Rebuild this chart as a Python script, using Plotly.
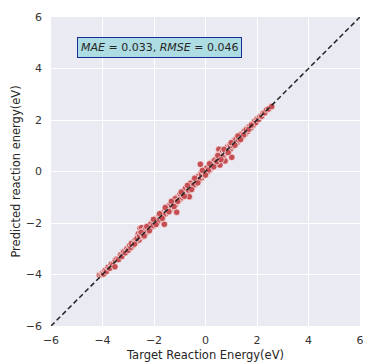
import plotly.graph_objects as go

# Target vs. predicted reaction energies (eV)
target = [
    -4.12, -4.05, -4.00, -3.96, -3.90, -3.85, -3.78, -3.72, -3.66, -3.60,
    -3.52, -3.50, -3.44, -3.38, -3.30, -3.25, -3.18, -3.12, -3.05, -3.00,
    -2.95, -2.90, -2.84, -2.80, -2.74, -2.70, -2.64, -2.61, -2.58, -2.54,
    -2.52, -2.48, -2.45, -2.40, -2.36, -2.30, -2.26, -2.20, -2.16, -2.10,
    -2.06, -2.00, -1.96, -1.90, -1.86, -1.80, -1.76, -1.70, -1.66, -1.60,
    -1.58, -1.54, -1.50, -1.46, -1.40, -1.36, -1.30, -1.26, -1.20, -1.15,
    -1.12, -1.10, -1.05, -1.00, -0.96, -0.92, -0.88, -0.84, -0.80, -0.76,
    -0.72, -0.68, -0.63, -0.60, -0.56, -0.52, -0.48, -0.44, -0.40, -0.36,
    -0.32, -0.28, -0.24, -0.20, -0.18, -0.14, -0.10, -0.06, -0.02, 0.02,
    0.06, 0.10, 0.14, 0.18, 0.22, 0.26, 0.30, 0.34, 0.38, 0.42,
    0.46, 0.50, 0.52, 0.56, 0.58, 0.62, 0.66, 0.70, 0.76, 0.78,
    0.82, 0.86, 0.90, 0.94, 0.98, 1.02, 1.04, 1.08, 1.12, 1.16,
    1.20, 1.24, 1.30, 1.34, 1.40, 1.44, 1.50, 1.54, 1.60, 1.64,
    1.70, 1.75, 1.80, 1.85, 1.90, 1.95, 2.00, 2.06, 2.12, 2.18,
    2.24, 2.30, 2.38, 2.45, 2.57,
    -2.88, -2.76, -2.66, -2.56, -2.42, -2.34, -2.24, -2.14, -2.04, -1.94,
    -1.84, -1.74, -1.64, -1.52, -1.44, -1.34, -1.24, -1.18, -1.08, -0.98,
    -0.86, -0.78, -0.66, -0.58, -0.46, -0.38, -0.26, -0.16, -0.04, 0.04,
    0.12, 0.20, 0.28, 0.36, 0.44, 0.54, 0.64, 0.74, 0.84, 0.96,
    1.06, 1.18, 1.28, 1.38, 1.48, 1.58, 1.68, 1.78,
    -2.50, -2.38, -2.28, -2.18, -2.02, -1.92, -1.78, -1.68, -1.56, -1.42,
    -1.32, -1.22, -0.94, -0.82, -0.70, -0.54, -0.42, -0.30, -0.12, 0.00,
    0.16, 0.32, 0.48, 0.60, 0.72, 0.88, 1.00, 1.14, 1.26, 1.36,
]
predicted = [
    -4.02, -4.00, -3.95, -3.98, -3.84, -3.88, -3.72, -3.76, -3.60, -3.63,
    -3.70, -3.45, -3.40, -3.42, -3.24, -3.30, -3.12, -3.16, -3.00, -3.06,
    -2.88, -2.95, -2.78, -2.86, -2.68, -2.75, -2.55, -2.42, -2.66, -2.20,
    -2.45, -2.18, -2.52, -2.32, -2.42, -2.22, -2.35, -2.12, -2.24, -2.00,
    -2.15, -1.90, -2.05, -1.82, -1.95, -1.70, -1.86, -1.62, -1.76, -2.05,
    -1.50, -1.64, -1.38, -1.56, -1.30, -1.46, -1.22, -1.36, -1.12, -1.25,
    -1.58, -1.00, -1.15, -0.90, -1.06, -1.00, -0.78, -0.94, -0.70, -0.86,
    -0.60, -0.78, -0.98, -0.50, -0.66, -0.42, -0.58, -0.34, -0.50, -0.26,
    -0.42, -0.18, -0.34, 0.28, -0.08, -0.24, 0.00, -0.16, 0.08, -0.08,
    0.16, 0.00, 0.24, 0.08, 0.32, 0.16, 0.40, 0.24, 0.48, 0.32,
    0.56, 0.40, 0.86, 0.25, 0.68, 0.52, 0.76, 0.60, 0.41, 0.88,
    0.72, 0.96, 0.80, 1.04, 0.88, 0.55, 1.12, 0.98, 1.20, 1.08,
    1.28, 1.14, 1.36, 1.26, 1.46, 1.36, 1.56, 1.46, 1.66, 1.56,
    1.74, 1.68, 1.84, 1.80, 1.94, 1.90, 2.04, 2.02, 2.14, 2.15,
    2.26, 2.28, 2.40, 2.43, 2.52,
    -2.80, -2.82, -2.60, -2.50, -2.48, -2.26, -2.30, -2.06, -2.10, -1.86,
    -1.90, -1.66, -1.70, -1.44, -1.50, -1.26, -1.30, -1.06, -1.16, -0.86,
    -0.92, -0.66, -0.72, -0.46, -0.52, -0.30, -0.32, -0.10, -0.10, 0.12,
    0.06, 0.28, 0.22, 0.44, 0.38, 0.62, 0.58, 0.82, 0.78, 1.02,
    1.00, 1.24, 1.22, 1.44, 1.42, 1.62, 1.64, 1.80,
    -2.36, -2.50, -2.14, -2.30, -1.86, -2.06, -1.64, -1.82, -1.40, -1.56,
    -1.16, -1.36, -0.80, -0.96, -0.54, -0.70, -0.26, -0.44, 0.04, -0.14,
    0.30, 0.18, 0.62, 0.46, 0.86, 0.74, 1.12, 1.02, 1.38, 1.24,
]

axis_ticks = [-6, -4, -2, 0, 2, 4, 6]
axis_range = [-6, 6]
mae, rmse = 0.033, 0.046

fig = go.Figure()

fig.add_trace(go.Scatter(
    x=target, y=predicted, mode="markers",
    marker=dict(size=6.5, color="#C44E52", line=dict(color="white", width=0.6)),
    showlegend=False, hoverinfo="skip",
))

# y = x reference line
fig.add_trace(go.Scatter(
    x=axis_range, y=axis_range, mode="lines",
    line=dict(color="#222222", width=1.5, dash="5px,3px"),
    showlegend=False, hoverinfo="skip",
))

fig.add_annotation(
    x=-5, y=4.8, xref="x", yref="y", xanchor="left", yanchor="middle",
    text=f"<i>MAE</i> = {mae:.3f}, <i>RMSE</i> = {rmse:.3f}",
    showarrow=False,
    font=dict(family="DejaVu Sans", size=11, color="#262626"),
    bgcolor="#ADDCE2", bordercolor="#1A2A9A", borderwidth=1, borderpad=3,
)

axis_common = dict(
    range=axis_range, tickvals=axis_ticks,
    ticktext=[str(t).replace("-", "\u2212") for t in axis_ticks],
    showgrid=True, gridcolor="white", gridwidth=1.2,
    zeroline=False, showline=False, ticks="", automargin=False,
    tickfont=dict(family="DejaVu Sans", size=11, color="#333333"),
)

fig.update_xaxes(
    **axis_common, ticklabelstandoff=6,
    title=dict(text="Target Reaction Energy(eV)", standoff=6,
               font=dict(family="DejaVu Sans", size=11.5, color="#262626")),
)
fig.update_yaxes(
    **axis_common, ticklabelstandoff=8,
    title=dict(text="Predicted reaction energy(eV)", standoff=2,
               font=dict(family="DejaVu Sans", size=11.5, color="#262626")),
)

fig.update_layout(
    width=365, height=362,
    margin=dict(l=51, r=5, t=17, b=36),
    paper_bgcolor="white", plot_bgcolor="#EAEAF2",
)

fig.write_html("out.html")
